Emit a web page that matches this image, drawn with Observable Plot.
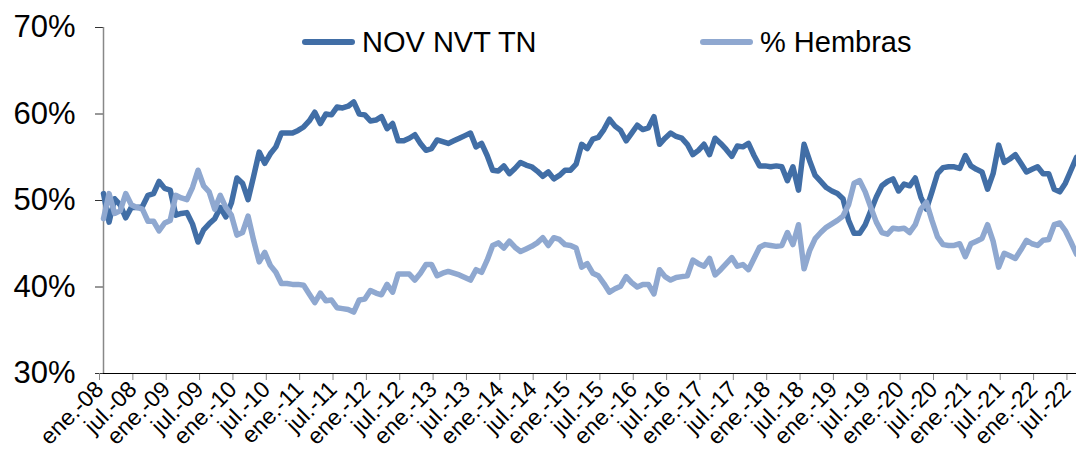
<!DOCTYPE html>
<html>
<head>
<meta charset="utf-8">
<script src="https://cdn.jsdelivr.net/npm/d3@7"></script>
<script src="https://cdn.jsdelivr.net/npm/@observablehq/plot@0.6"></script>
<style>
  body { margin: 0; background: #fff; font-family: "Liberation Sans", Arial, sans-serif; }
  #wrap { position: relative; width: 1076px; height: 459px; overflow: hidden; }
  .lg { position: absolute; top: 22px; height: 40px; display: flex; align-items: center; font-size: 29px; color: #000; white-space: nowrap; }
  .sw { display: inline-block; width: 53px; height: 6px; border-radius: 3px; margin-right: 7px; }
</style>
</head>
<body>
<div id="wrap"></div>
<script>
const startYear = 2008;
const monthNames = ["ene.","feb.","mar.","abr.","may.","jun.","jul.","ago.","sep.","oct.","nov.","dic."];
const seriesNames = ["NOV NVT TN", "% Hembras"];
const seriesColors = ["#416ea6", "#8fa8d0"];
const yTicks = [30, 40, 50, 60, 70];

// Monthly values (%), ene-08 .. ago-22
const novNvtTn = [
  50.8,47.5,50.2,49.5,48.0,49.2,49.2,49.3,50.6,50.8,52.2,51.4,
  51.2,48.3,48.5,48.6,47.3,45.2,46.6,47.3,47.9,49.2,48.1,49.7,
  52.6,52.0,50.1,52.8,55.6,54.3,55.4,56.2,57.8,57.8,57.8,58.1,
  58.5,59.2,60.2,58.9,60.0,59.9,60.8,60.7,60.9,61.4,60.0,59.9,
  59.2,59.3,59.7,58.3,58.9,56.9,56.9,57.2,57.6,56.6,55.8,56.0,
  57.0,56.8,56.6,56.9,57.2,57.5,57.8,56.2,56.6,55.2,53.5,53.4,
  54.0,53.1,53.7,54.4,54.1,53.9,53.4,52.8,53.3,52.5,52.9,53.5,
  53.5,54.2,56.5,56.0,57.1,57.3,58.2,59.4,58.6,58.1,56.9,57.8,
  58.7,58.2,58.4,59.7,56.5,57.2,57.8,57.4,57.2,56.5,55.3,55.8,
  56.5,55.3,57.2,56.6,55.9,55.1,56.3,56.2,56.6,55.2,54.0,54.0,
  53.9,54.0,53.9,52.3,53.9,51.2,56.5,54.6,52.9,52.2,51.5,51.1,
  50.8,50.2,47.7,46.2,46.2,47.2,48.8,50.4,51.7,52.2,52.5,51.1,
  51.9,51.7,52.6,50.4,49.0,51.0,53.1,53.8,53.9,53.9,53.7,55.2,
  54.0,53.6,53.3,51.3,53.1,56.4,54.4,54.8,55.3,54.3,53.3,53.6,
  53.9,53.1,53.1,51.3,51.0,52.0,53.5,55.0
];
const hembras = [
  47.9,50.8,48.5,48.8,50.8,49.5,49.2,49.0,47.6,47.6,46.5,47.4,
  47.7,50.6,50.3,50.1,51.5,53.5,51.7,51.0,49.0,50.6,49.2,48.3,
  46.0,46.3,48.2,45.4,42.9,44.0,42.5,41.7,40.4,40.4,40.3,40.3,
  40.2,39.2,38.2,39.3,38.4,38.5,37.6,37.5,37.4,37.1,38.5,38.6,
  39.6,39.3,39.1,40.3,39.4,41.5,41.5,41.5,40.8,41.6,42.6,42.6,
  41.3,41.6,41.8,41.6,41.4,41.1,40.8,42.0,41.7,43.1,44.8,45.1,
  44.5,45.3,44.6,44.1,44.4,44.7,45.1,45.7,44.8,45.7,45.5,44.9,
  44.8,44.5,42.3,42.7,41.6,41.3,40.4,39.4,39.8,40.1,41.2,40.5,
  40.0,40.3,40.3,39.2,42.0,41.2,40.8,41.1,41.2,41.3,43.1,42.7,
  42.4,43.3,41.4,42.0,42.7,43.4,42.4,42.6,42.0,43.3,44.6,44.9,
  44.8,44.7,44.8,46.3,44.9,47.2,42.1,44.2,45.6,46.3,46.9,47.3,
  47.7,48.2,49.5,52.0,52.3,51.0,49.2,47.5,46.3,46.1,46.8,46.7,
  46.8,46.3,47.2,49.0,49.8,47.7,45.8,44.9,44.8,44.8,45.0,43.5,
  45.0,45.3,45.6,47.2,45.3,42.3,43.9,43.6,43.3,44.3,45.4,45.0,
  44.8,45.4,45.5,47.2,47.4,46.5,45.2,43.8
];

const xTicks = d3.range(0, novNvtTn.length, 6);
const monthLabel = m => monthNames[m % 12] + "-" + String((startYear + Math.floor(m / 12)) % 100).padStart(2, "0");

const data = [];
novNvtTn.forEach((v, i) => data.push({m: i, v, s: seriesNames[0]}));
hembras.forEach((v, i) => data.push({m: i, v, s: seriesNames[1]}));

const chart = Plot.plot({
  width: 1076,
  height: 459,
  marginLeft: 103,
  marginRight: 0,
  marginTop: 27,
  marginBottom: 86,
  style: {fontFamily: '"Liberation Sans", Arial, sans-serif', background: "white", color: "#000", overflow: "visible"},
  x: {domain: [0, novNvtTn.length - 1], label: null},
  y: {domain: [30, 70], label: null},
  color: {domain: seriesNames, range: seriesColors},
  marks: [
    Plot.axisY({ticks: yTicks, tickFormat: d => d + "%", tickSize: 8, tickPadding: 20, fontSize: 31, stroke: "#333"}),
    Plot.axisX({ticks: xTicks, tickFormat: monthLabel, tickSize: 7, tickPadding: 5, tickRotate: -45, fontSize: 23, stroke: "#888", dx: -4}),
    Plot.ruleY([30], {stroke: "#000", strokeWidth: 1.2}),
    Plot.ruleX([0], {stroke: "#888", strokeWidth: 1.5}),
    Plot.line(data, {x: "m", y: "v", z: "s", stroke: "s", strokeWidth: 5.5, strokeLinejoin: "round", strokeLinecap: "round"})
  ]
});

const wrap = document.getElementById("wrap");
wrap.appendChild(chart);

const legendLeft = [302, 700];
seriesNames.forEach((name, i) => {
  const item = document.createElement("div");
  item.className = "lg";
  item.style.left = legendLeft[i] + "px";
  const sw = document.createElement("span");
  sw.className = "sw";
  sw.style.background = seriesColors[i];
  item.appendChild(sw);
  item.appendChild(document.createTextNode(name));
  wrap.appendChild(item);
});
</script>
</body>
</html>
